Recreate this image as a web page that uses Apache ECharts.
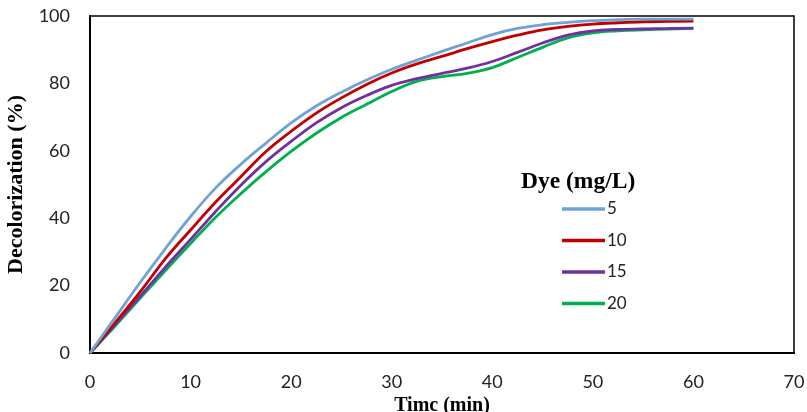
<!DOCTYPE html>
<html>
<head>
<meta charset="utf-8">
<script src="https://cdn.jsdelivr.net/npm/echarts@6/dist/echarts.min.js"></script>
<style>html,body{margin:0;padding:0;background:#fff;}#c{width:807px;height:412px;}</style>
</head>
<body>
<div id="c"></div>
<script>
var times = [0,2.5,5,7.5,10,12.5,15,17.5,20,22.5,25,27.5,30,32.5,35,37.5,40,42.5,45,47.5,50,52.5,55,57.5,60];
var seriesNames = ['5','10','15','20'];
var dye5  = [0,10.5,21,31,40.5,49,56,62.3,68.3,73.3,77.4,81,84.2,86.9,89.5,92,94.5,96.3,97.4,98.1,98.6,98.9,99.1,99.1,99.1];
var dye10 = [0,9,18.2,28,36.5,44.8,52.3,59.8,65.8,71.2,75.7,79.7,83.1,85.8,88,90.3,92.4,94.3,95.9,96.9,97.6,98,98.3,98.4,98.5];
var dye15 = [0,8.5,16.9,25.5,33.7,42,49.8,56.8,62.8,68.3,72.8,76.4,79.4,81.4,83,84.5,86.5,89.2,92,94.3,95.6,96,96.2,96.3,96.4];
var dye20 = [0,8,16.3,24.5,32.5,40.3,47.3,53.8,59.8,65.2,69.9,73.8,77.6,80.6,82,83,84.7,87.7,90.7,93.5,95,95.6,95.9,96.1,96.3];
var xTicks = [0,10,20,30,40,50,60,70];
var yTicks = [0,20,40,60,80,100];
var colors = ['#6FA3D6','#C00000','#7030A0','#00B050'];

function pairs(v){ return times.map(function(t,i){ return [t, v[i]]; }); }
var all = [dye5, dye10, dye15, dye20];

var chart = echarts.init(document.getElementById('c'));
chart.setOption({
  animation: false,
  backgroundColor: '#fff',
  grid: { left: 90, right: 13, top: 16, bottom: 59, show: true, borderColor: '#000', borderWidth: 1.5, backgroundColor: 'transparent', containLabel: false, outerBoundsMode: 'none' },
  xAxis: {
    type: 'value', min: xTicks[0], max: xTicks[xTicks.length-1], interval: 10,
    name: 'Timc (min)', nameLocation: 'middle', nameGap: 39,
    nameTextStyle: { fontFamily: 'Liberation Serif', fontWeight: 'bold', fontSize: 20, color: '#000' },
    axisLine: { lineStyle: { color: '#000', width: 2 } },
    axisTick: { show: false },
    splitLine: { show: false },
    axisLabel: { fontFamily: 'Lato', fontSize: 18, color: '#222', margin: 20 }
  },
  yAxis: {
    type: 'value', min: yTicks[0], max: yTicks[yTicks.length-1], interval: 20,
    name: 'Decolorization (%)', nameLocation: 'middle', nameGap: 57,
    nameTextStyle: { fontFamily: 'Liberation Serif', fontWeight: 'bold', fontSize: 22, color: '#000' },
    axisLine: { show: true, lineStyle: { color: '#000', width: 2 } },
    axisTick: { show: false },
    splitLine: { show: false },
    axisLabel: { fontFamily: 'Lato', fontSize: 18, color: '#222', margin: 20 }
  },
  legend: {
    orient: 'vertical', left: 557, top: 194,
    icon: 'rect', itemWidth: 43, itemHeight: 3.5, itemGap: 11.5,
    textStyle: { fontFamily: 'Lato', fontSize: 17, color: '#222', lineHeight: 20, padding: [0,0,0,-3] },
    data: seriesNames
  },
  graphic: [{
    type: 'text', left: 521, top: 170,
    style: { text: 'Dye (mg/L)', fontFamily: 'Liberation Serif', fontWeight: 'bold', fontSize: 23.5, fill: '#000' }
  }],
  series: all.map(function(v, i){
    return {
      name: seriesNames[i], type: 'line', data: pairs(v), smooth: 0.4,
      showSymbol: false, symbol: 'none',
      lineStyle: { color: colors[i], width: 2.8 },
      itemStyle: { color: colors[i] },
      z: 10 - i
    };
  })
});
</script>
</body>
</html>
